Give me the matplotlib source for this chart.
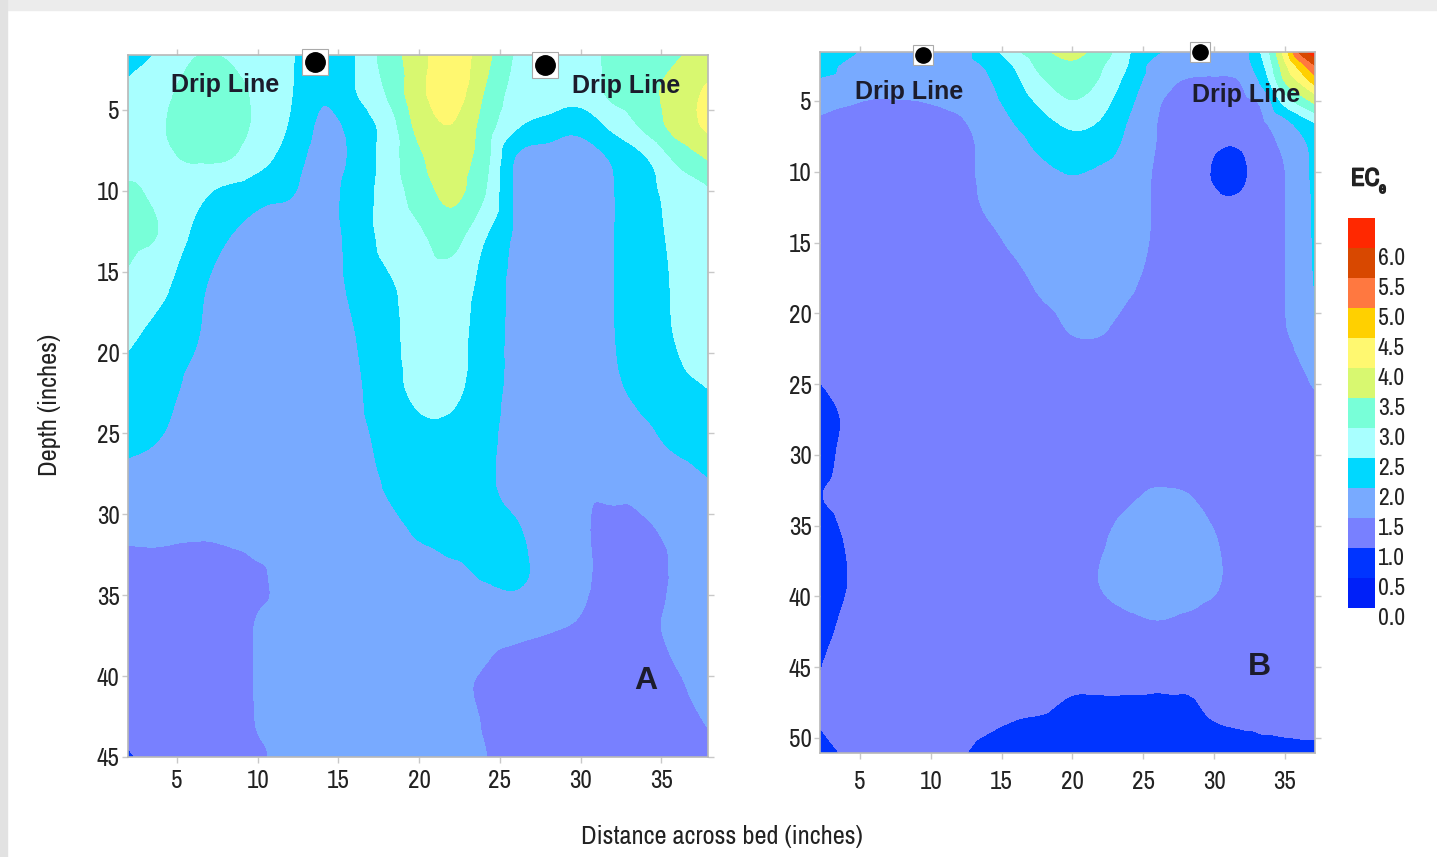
import numpy as np
import matplotlib.pyplot as plt
import matplotlib.tri as mtri
import matplotlib.patheffects as pe
from matplotlib import font_manager
from matplotlib.colors import ListedColormap, BoundaryNorm
from matplotlib.cm import ScalarMappable
from matplotlib.patches import Rectangle

# pick a narrow sans for the numbers/labels if one is installed
narrow = None
for f in font_manager.fontManager.ttflist:
    if f.style != 'normal' or f.weight not in (400, 'normal', 'regular'):
        continue
    if 'Narrow' in f.name or 'Condensed' in f.name:
        narrow = (f.name, 'normal')
        break
    if f.name == 'DejaVu Sans' and f.stretch in ('condensed', 'semi-condensed'):
        narrow = ('DejaVu Sans', 'condensed')
if narrow is None:
    narrow = ('Roboto', 'normal')
plt.rcParams['font.family'] = [narrow[0], 'DejaVu Sans']
plt.rcParams['font.stretch'] = narrow[1]

# EC bands (0.5 wide) and their colours
levels = [0.0, 0.5, 1.0, 1.5, 2.0, 2.5, 3.0, 3.5, 4.0, 4.5, 5.0, 5.5, 6.0, 6.5]
band_colors = ['#0020f8', '#0034ff', '#7880ff', '#78aaff', '#00d8ff', '#a8ffff',
               '#78ffd8', '#d8f870', '#fff870', '#ffd000', '#ff7840', '#d84800', '#ff2800']
cbar_ticks = [0.0, 0.5, 1.0, 1.5, 2.0, 2.5, 3.0, 3.5, 4.0, 4.5, 5.0, 5.5, 6.0]
cbar_labels = ['0.0', '0.5', '1.0', '1.5', '2.0', '2.5', '3.0', '3.5', '4.0', '4.5', '5.0', '5.5', '6.0']

# panel A: distance across bed (in), depth (in), ECe
dist_a = [1.9, 4, 6, 8, 10, 12, 14, 16, 18, 20, 22, 24, 26, 28, 30, 32, 34, 36, 38]
depth_a = [1.6, 4, 6, 8, 10, 13, 16, 19, 22, 25, 28, 31, 34, 37, 40, 43, 45]
ec_a = [
    [2.3, 2.56, 2.97, 2.97, 2.7, 2.55, 2.2, 2.48, 3.2, 3.8, 4.3, 3.7, 2.95, 2.7, 2.85, 3.1, 3.3, 3.45, 3.6],
    [2.6, 2.85, 3.2, 3.2, 2.9, 2.53, 2.05, 2.45, 3.02, 3.85, 4.25, 3.48, 2.8, 2.75, 2.7, 3.1, 3.35, 3.7, 4.1],
    [2.7, 2.95, 3.25, 3.2, 2.9, 2.45, 1.9, 2.15, 2.7, 3.65, 3.98, 3.3, 2.55, 2.3, 2.15, 2.6, 3.1, 3.7, 4.1],
    [2.8, 2.9, 3.05, 3.03, 2.7, 2.25, 1.8, 2.1, 2.7, 3.4, 3.75, 3.2, 1.95, 1.75, 1.75, 2.05, 2.45, 3.1, 3.55],
    [3.05, 2.9, 2.65, 2.4, 2.2, 2.05, 1.8, 2.2, 2.7, 3.2, 3.65, 3.05, 1.9, 1.7, 1.7, 1.98, 2.35, 2.7, 2.95],
    [3.1, 2.95, 2.4, 2.02, 1.75, 1.7, 1.8, 2.15, 2.65, 2.9, 3.15, 2.52, 1.9, 1.7, 1.65, 1.98, 2.3, 2.6, 2.8],
    [2.9, 2.6, 2.15, 1.8, 1.7, 1.65, 1.75, 2.1, 2.4, 2.7, 2.75, 2.35, 1.85, 1.65, 1.65, 1.98, 2.3, 2.55, 2.75],
    [2.6, 2.3, 2.05, 1.75, 1.65, 1.6, 1.65, 1.98, 2.35, 2.65, 2.65, 2.3, 1.85, 1.65, 1.65, 1.97, 2.3, 2.52, 2.7],
    [2.3, 2.15, 1.9, 1.7, 1.6, 1.55, 1.6, 1.9, 2.3, 2.62, 2.62, 2.25, 1.85, 1.65, 1.65, 1.9, 2.2, 2.4, 2.52],
    [2.1, 2.01, 1.8, 1.65, 1.55, 1.52, 1.55, 1.85, 2.15, 2.4, 2.4, 2.15, 1.8, 1.6, 1.55, 1.7, 1.9, 2.15, 2.3],
    [1.9, 1.8, 1.7, 1.6, 1.55, 1.52, 1.52, 1.65, 2.05, 2.3, 2.35, 2.1, 1.8, 1.6, 1.55, 1.6, 1.65, 1.8, 1.98],
    [1.6, 1.6, 1.55, 1.55, 1.6, 1.6, 1.6, 1.7, 1.85, 2.05, 2.2, 2.2, 2.05, 1.7, 1.55, 1.4, 1.45, 1.6, 1.75],
    [1.3, 1.3, 1.3, 1.35, 1.45, 1.6, 1.65, 1.7, 1.75, 1.8, 1.85, 2.01, 2.08, 1.8, 1.58, 1.35, 1.35, 1.55, 1.7],
    [1.25, 1.25, 1.25, 1.3, 1.52, 1.6, 1.65, 1.65, 1.7, 1.7, 1.7, 1.65, 1.6, 1.53, 1.45, 1.3, 1.4, 1.6, 1.7],
    [1.2, 1.25, 1.25, 1.3, 1.52, 1.6, 1.65, 1.65, 1.65, 1.6, 1.55, 1.48, 1.35, 1.3, 1.25, 1.25, 1.3, 1.48, 1.6],
    [1.1, 1.2, 1.25, 1.3, 1.51, 1.6, 1.65, 1.65, 1.6, 1.6, 1.55, 1.49, 1.35, 1.3, 1.25, 1.25, 1.25, 1.3, 1.52],
    [0.95, 1.15, 1.25, 1.3, 1.45, 1.6, 1.6, 1.6, 1.6, 1.6, 1.55, 1.51, 1.35, 1.3, 1.25, 1.25, 1.25, 1.25, 1.3],
]

# panel B
dist_b = [2.1, 4, 6, 8, 10, 12, 14, 16, 18, 20, 22, 24, 26, 28, 30, 32, 33.5, 35, 36.2, 37.3]
depth_b = [1.5, 2.5, 3.5, 5, 6.5, 8, 10, 12, 15, 18, 21, 24, 27, 30, 33, 36, 39, 42, 45, 48, 51.3]
ec_b = [
    [2.2, 2.08, 1.9, 1.85, 1.8, 1.8, 2.25, 2.9, 3.4, 3.65, 3.25, 2.52, 2.05, 1.8, 1.75, 1.8, 2.65, 4.25, 5.75, 6.45],
    [2.12, 1.95, 1.85, 1.8, 1.8, 1.85, 2.05, 2.55, 3.2, 3.4, 3.05, 2.45, 1.75, 1.7, 1.65, 1.75, 2.45, 3.85, 4.8, 5.6],
    [1.97, 1.9, 1.8, 1.75, 1.75, 1.8, 1.95, 2.4, 2.98, 3.15, 2.95, 2.3, 1.7, 1.48, 1.45, 1.55, 2.2, 3.55, 4.2, 4.9],
    [1.65, 1.55, 1.47, 1.48, 1.52, 1.6, 1.85, 2.2, 2.65, 2.98, 2.7, 2.1, 1.55, 1.35, 1.3, 1.4, 1.65, 2.7, 3.25, 3.7],
    [1.45, 1.4, 1.35, 1.35, 1.4, 1.45, 1.7, 2.02, 2.35, 2.6, 2.45, 1.95, 1.49, 1.3, 1.25, 1.3, 1.45, 1.85, 2.25, 2.55],
    [1.4, 1.35, 1.3, 1.3, 1.35, 1.4, 1.6, 1.85, 2.15, 2.35, 2.25, 1.85, 1.48, 1.25, 1.05, 1.05, 1.35, 1.6, 1.9, 2.2],
    [1.35, 1.3, 1.25, 1.25, 1.3, 1.4, 1.58, 1.75, 1.9, 2.02, 1.92, 1.7, 1.45, 1.25, 0.97, 0.92, 1.3, 1.49, 1.85, 2.15],
    [1.3, 1.25, 1.25, 1.25, 1.3, 1.38, 1.55, 1.7, 1.8, 1.85, 1.8, 1.65, 1.45, 1.25, 1.05, 1.05, 1.3, 1.49, 1.8, 2.12],
    [1.3, 1.25, 1.25, 1.25, 1.25, 1.3, 1.42, 1.55, 1.65, 1.7, 1.7, 1.6, 1.45, 1.3, 1.25, 1.25, 1.3, 1.49, 1.8, 2.1],
    [1.3, 1.25, 1.25, 1.25, 1.25, 1.25, 1.35, 1.42, 1.55, 1.62, 1.6, 1.53, 1.4, 1.3, 1.25, 1.25, 1.3, 1.49, 1.75, 2.07],
    [1.3, 1.25, 1.25, 1.25, 1.25, 1.25, 1.3, 1.35, 1.42, 1.52, 1.52, 1.42, 1.35, 1.3, 1.25, 1.25, 1.3, 1.48, 1.65, 2.02],
    [1.05, 1.2, 1.25, 1.25, 1.25, 1.25, 1.3, 1.3, 1.35, 1.4, 1.4, 1.35, 1.3, 1.3, 1.25, 1.25, 1.3, 1.38, 1.48, 1.62],
    [0.85, 1.05, 1.25, 1.25, 1.25, 1.25, 1.25, 1.3, 1.3, 1.3, 1.3, 1.3, 1.3, 1.3, 1.25, 1.25, 1.25, 1.3, 1.35, 1.4],
    [0.8, 1.1, 1.25, 1.25, 1.25, 1.25, 1.25, 1.25, 1.25, 1.25, 1.25, 1.3, 1.3, 1.3, 1.25, 1.25, 1.25, 1.25, 1.3, 1.3],
    [0.97, 1.15, 1.25, 1.25, 1.25, 1.25, 1.25, 1.25, 1.25, 1.25, 1.3, 1.45, 1.55, 1.52, 1.38, 1.25, 1.25, 1.25, 1.25, 1.25],
    [0.7, 1.02, 1.2, 1.25, 1.25, 1.25, 1.25, 1.25, 1.25, 1.3, 1.45, 1.65, 1.7, 1.65, 1.52, 1.3, 1.25, 1.25, 1.25, 1.25],
    [0.65, 0.98, 1.2, 1.25, 1.25, 1.25, 1.25, 1.25, 1.25, 1.3, 1.51, 1.65, 1.7, 1.65, 1.55, 1.3, 1.25, 1.25, 1.25, 1.25],
    [0.8, 1.08, 1.2, 1.25, 1.25, 1.25, 1.25, 1.25, 1.25, 1.3, 1.35, 1.42, 1.47, 1.42, 1.35, 1.25, 1.25, 1.25, 1.25, 1.25],
    [0.97, 1.2, 1.25, 1.25, 1.25, 1.25, 1.25, 1.25, 1.2, 1.2, 1.2, 1.2, 1.2, 1.15, 1.2, 1.25, 1.25, 1.25, 1.25, 1.25],
    [1.05, 1.15, 1.2, 1.2, 1.2, 1.15, 1.1, 1.05, 1.02, 0.9, 0.9, 0.9, 0.88, 0.92, 1.05, 1.1, 1.15, 1.15, 1.15, 1.15],
    [0.85, 1.02, 1.15, 1.15, 1.1, 1.02, 0.9, 0.8, 0.75, 0.75, 0.75, 0.75, 0.75, 0.75, 0.8, 0.85, 0.85, 0.88, 0.9, 0.9],
]

# drip emitters (distance, depth)
drip_a_x = [13.55, 27.8]
drip_a_y = [2.04, 2.23]
drip_b_x = [9.45, 29.0]
drip_b_y = [1.75, 1.54]

cmap = ListedColormap(band_colors)
norm = BoundaryNorm(levels, cmap.N)

fig = plt.figure(figsize=(14.37, 8.57), dpi=100)

# screenshot frame
fig.patches.append(Rectangle((0, 1 - 10 / 857), 1, 10 / 857, transform=fig.transFigure,
                             color='#ececec', zorder=0))
fig.patches.append(Rectangle((0, 0), 7 / 1437, 1, transform=fig.transFigure,
                             color='#e2e2e2', zorder=0))

ax_a = fig.add_axes([128 / 1437, 1 - 757 / 857, 580 / 1437, 702 / 857])
ax_b = fig.add_axes([820 / 1437, 1 - 753 / 857, 495 / 1437, 701 / 857])


def draw_panel(ax, xs, ys, z, xlim, ylim, ticks_y, xpad):
    gx, gy = np.meshgrid(xs, ys)
    tri = mtri.Triangulation(gx.ravel(), gy.ravel())
    # smooth contouring of the read grid
    refiner = mtri.UniformTriRefiner(tri)
    interp = mtri.CubicTriInterpolator(tri, np.array(z).ravel(), kind='geom')
    tri_f, z_f = refiner.refine_field(np.array(z).ravel(), triinterpolator=interp, subdiv=3)
    z_f = np.clip(z_f, 0.01, 6.49)
    cs = ax.tricontourf(tri_f, z_f, levels=levels, colors=band_colors)
    cs.set_edgecolor('face')
    cs.set_linewidth(0.4)
    ax.set_xlim(*xlim)
    ax.set_ylim(*ylim)
    ax.set_xticks([5, 10, 15, 20, 25, 30, 35])
    ax.set_yticks(ticks_y)
    ax.tick_params(direction='out', length=4, width=1, color='#c8c8c8',
                   top=True, right=True, labelsize=18, labelcolor='#222222')
    ax.tick_params(axis='y', pad=2)
    ax.tick_params(axis='x', pad=xpad)
    for s in ax.spines.values():
        s.set_color('#b8b8b8')
        s.set_linewidth(1.2)


draw_panel(ax_a, dist_a, depth_a, ec_a, (1.96, 37.9), (44.8, 1.6),
           [5, 10, 15, 20, 25, 30, 35, 40, 45], 5)
draw_panel(ax_b, dist_b, depth_b, ec_b, (2.18, 37.12), (51.06, 1.54),
           [5, 10, 15, 20, 25, 30, 35, 40, 45, 50], 8)

txt = dict(family=['Liberation Sans', 'DejaVu Sans'], fontstretch='normal',
           fontweight='bold', color='#1c1c2c')
ax_a.text(7.97, 3.46, 'Drip Line', ha='center', va='center', fontsize=18, **txt)
ax_a.text(32.8, 3.52, 'Drip Line', ha='center', va='center', fontsize=18, **txt)
ax_a.text(34.06, 40.3, 'A', ha='center', va='center', fontsize=23, **txt)
ax_b.text(8.46, 4.36, 'Drip Line', ha='center', va='center', fontsize=18, **txt)
ax_b.text(32.24, 4.58, 'Drip Line', ha='center', va='center', fontsize=18, **txt)
ax_b.text(33.23, 44.97, 'B', ha='center', va='center', fontsize=23, **txt)

ax_a.plot(drip_a_x, drip_a_y, 's', ms=19, mfc='white', mec='#aaaaaa', mew=0.8,
          ls='none', clip_on=False, zorder=5)
ax_a.plot(drip_a_x, drip_a_y, 'o', ms=14, color='black', ls='none', clip_on=False, zorder=6)
ax_b.plot(drip_b_x, drip_b_y, 's', ms=15, mfc='white', mec='#aaaaaa', mew=0.8,
          ls='none', clip_on=False, zorder=5)
ax_b.plot(drip_b_x, drip_b_y, 'o', ms=11, color='black', ls='none', clip_on=False, zorder=6)

ax_a.set_ylabel('Depth (inches)', fontsize=19, color='#222222')
ax_a.yaxis.set_label_coords(-0.116, 0.501)
fig.text(722 / 1437, 1 - 836 / 857, 'Distance across bed (inches)', ha='center', va='center',
         fontsize=19, color='#222222')

# colour bar
cax = fig.add_axes([1348 / 1437, 1 - 608 / 857, 27 / 1437, 390 / 857])
cb = fig.colorbar(ScalarMappable(norm=norm, cmap=cmap), cax=cax, ticks=cbar_ticks)
cb.outline.set_visible(False)
cb.ax.minorticks_off()
cb.ax.set_yticklabels(cbar_labels)
cb.ax.tick_params(length=0, pad=2, labelsize=17, labelcolor='#222222')
for lab in cb.ax.get_yticklabels():
    lab.set_va('top')
bold_fx = [pe.withStroke(linewidth=1.1, foreground='#222222')]
fig.text(1351 / 1437, 1 - 178 / 857, 'EC', ha='left', va='center', fontsize=18,
         color='#222222', path_effects=bold_fx)
fig.text(1379 / 1437, 1 - 189 / 857, 'e', ha='left', va='center', fontsize=11,
         color='#222222', path_effects=bold_fx)

fig.savefig('out.png', dpi=100)
